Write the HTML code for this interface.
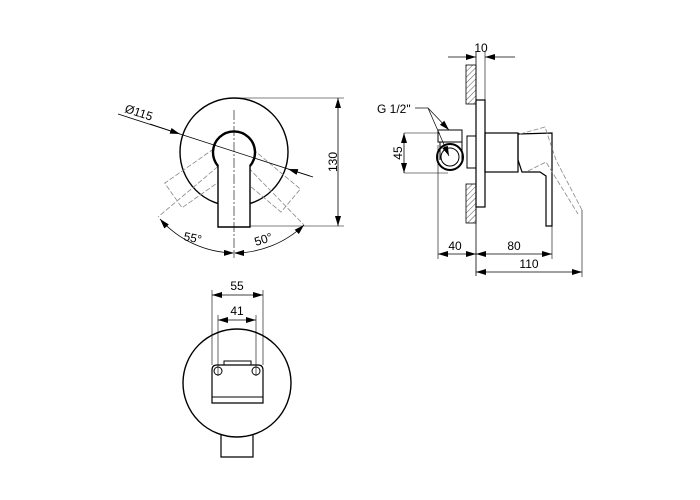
<!DOCTYPE html>
<html><head><style>body{margin:0;background:#fff}svg{display:block}text{font-family:"Liberation Sans",sans-serif;fill:#000}</style></head><body>
<svg width="700" height="500" viewBox="0 0 700 500" xmlns="http://www.w3.org/2000/svg">
<defs>
<marker id="a" viewBox="0 0 10 6" refX="10" refY="3" markerWidth="10" markerHeight="6" orient="auto-start-reverse" markerUnits="userSpaceOnUse"><path d="M0,0L10,3L0,6z" fill="#000"/></marker>
<pattern id="h" width="4" height="4" patternUnits="userSpaceOnUse" patternTransform="rotate(45)"><line x1="0" y1="0" x2="0" y2="4" stroke="#555" stroke-width="1"/></pattern>
</defs>
<g fill="none" stroke="#000" stroke-width="1">
<!-- Front view -->
<circle cx="234" cy="152" r="54" stroke-width="1.4"/>
<g stroke="#888" stroke-dasharray="5,2" stroke-width="0.8">
<rect x="219" y="153" width="30" height="74" transform="rotate(55 234 153)"/>
<rect x="219" y="153" width="30" height="74" transform="rotate(-50 234 153)"/>
<line x1="234" y1="153" x2="158" y2="217"/>
<line x1="234" y1="153" x2="304" y2="225"/>
</g>
<path d="M218,166 A21,21 0 1 1 250,166 L250,227 L218,227 Z" fill="#fff" stroke-width="1.4"/>
<path d="M218,166 A21,21 0 1 1 250,166" stroke-width="2.4"/>
<line x1="234" y1="110" x2="234" y2="258" stroke-dasharray="10,2,2,2" stroke-width="0.6"/>
<line x1="118" y1="114" x2="313" y2="177" stroke-width="0.8"/>
<line x1="150" y1="124" x2="180" y2="134" marker-end="url(#a)" stroke-width="0.8"/>
<line x1="310" y1="176" x2="288" y2="169" marker-end="url(#a)" stroke-width="0.8"/>
<line x1="234" y1="98" x2="344" y2="98" stroke-width="0.6"/>
<line x1="250" y1="226" x2="344" y2="226" stroke-width="0.6"/>
<line x1="338" y1="98" x2="338" y2="226" marker-start="url(#a)" marker-end="url(#a)" stroke-width="0.8"/>
<path d="M160,219 A101,101 0 0 0 234,253" marker-start="url(#a)" marker-end="url(#a)" stroke-width="0.8"/>
<path d="M304,225 A101,101 0 0 1 234,253" marker-start="url(#a)" marker-end="url(#a)" stroke-width="0.8"/>
<!-- Side view -->
<rect x="466" y="65" width="10" height="39" fill="url(#h)" stroke-width="0.8"/>
<rect x="466" y="184" width="10" height="39" fill="url(#h)" stroke-width="0.8"/>
<rect x="476" y="100" width="9" height="107" stroke-width="1.2"/>
<line x1="476" y1="52" x2="476" y2="276" stroke-width="0.8"/>
<line x1="485" y1="52" x2="485" y2="100" stroke-width="0.6"/>
<line x1="448" y1="57" x2="476" y2="57" marker-end="url(#a)" stroke-width="0.8"/>
<line x1="515" y1="57" x2="485" y2="57" marker-end="url(#a)" stroke-width="0.8"/>
<rect x="485" y="133" width="33" height="39" stroke-width="1.2"/>
<path d="M518,134 L552,133 L552,226 L546,226 L546,176 L540,172 L522,172 L518,160 Z" stroke-width="1.2"/>
<g stroke="#888" stroke-dasharray="5,2" stroke-width="0.8">
<path d="M520,134 L545,127 L556,160 L582,210"/>
<path d="M528,171 L546,162 L578,214"/>
</g>
<rect x="467" y="136" width="9" height="32" stroke-width="1"/>
<rect x="438" y="130" width="24" height="12" stroke-width="1"/>
<line x1="440" y1="142" x2="440" y2="160"/><line x1="462" y1="142" x2="462" y2="160"/>
<circle cx="450" cy="157" r="13" stroke-width="2"/>
<circle cx="450" cy="157" r="9" stroke-width="1"/>
<line x1="404" y1="133" x2="440" y2="133" stroke-width="0.6"/>
<line x1="404" y1="173" x2="448" y2="173" stroke-width="0.6"/>
<line x1="404" y1="133" x2="404" y2="173" marker-start="url(#a)" marker-end="url(#a)" stroke-width="0.8"/>
<line x1="415" y1="108" x2="428" y2="108" stroke-width="0.7"/>
<line x1="428" y1="108" x2="449" y2="130" marker-end="url(#a)" stroke-width="0.7"/>
<line x1="428" y1="108" x2="449" y2="156" marker-end="url(#a)" stroke-width="0.7"/>
<line x1="438" y1="145" x2="438" y2="259" stroke-width="0.6"/>
<line x1="552" y1="226" x2="552" y2="259" stroke-width="0.6"/>
<line x1="582" y1="210" x2="582" y2="277" stroke-width="0.6"/>
<line x1="438" y1="254" x2="476" y2="254" marker-start="url(#a)" marker-end="url(#a)" stroke-width="0.8"/>
<line x1="476" y1="254" x2="552" y2="254" marker-start="url(#a)" marker-end="url(#a)" stroke-width="0.8"/>
<line x1="476" y1="272" x2="582" y2="272" marker-start="url(#a)" marker-end="url(#a)" stroke-width="0.8"/>
<!-- Bottom view -->
<path d="M221,435 L221,457 L253,457 L253,435" stroke-width="1.2"/>
<circle cx="237" cy="383" r="54" stroke-width="1.4"/>
<path d="M212,403 L212,370 Q212,365 217,365 L258,365 Q263,365 263,370 L263,403 Z" fill="#fff" stroke-width="1.2"/>
<line x1="212" y1="397" x2="263" y2="397"/>
<rect x="224" y="361" width="27" height="4" stroke-width="1"/>
<circle cx="218" cy="371" r="4"/><circle cx="256" cy="371" r="4"/>
<line x1="212" y1="290" x2="212" y2="365" stroke-width="0.6"/>
<line x1="263" y1="290" x2="263" y2="365" stroke-width="0.6"/>
<line x1="218" y1="315" x2="218" y2="376" stroke-width="0.6"/>
<line x1="256" y1="315" x2="256" y2="376" stroke-width="0.6"/>
<line x1="212" y1="295" x2="263" y2="295" marker-start="url(#a)" marker-end="url(#a)" stroke-width="0.8"/>
<line x1="218" y1="320" x2="256" y2="320" marker-start="url(#a)" marker-end="url(#a)" stroke-width="0.8"/>
</g>
<g font-size="12">
<text x="124" y="112" transform="rotate(18 124 112)">Ø115</text>
<text x="334" y="162" text-anchor="middle" transform="rotate(-90 334 162)" dominant-baseline="middle">130</text>
<text x="183" y="240" transform="rotate(12 183 240)">55°</text>
<text x="256" y="246" transform="rotate(-18 256 246)">50°</text>
<text x="481" y="52" text-anchor="middle">10</text>
<text x="377" y="113">G 1/2"</text>
<text x="399" y="153" text-anchor="middle" transform="rotate(-90 399 153)" dominant-baseline="middle">45</text>
<text x="455" y="250" text-anchor="middle">40</text>
<text x="514" y="250" text-anchor="middle">80</text>
<text x="529" y="268" text-anchor="middle">110</text>
<text x="237" y="290" text-anchor="middle">55</text>
<text x="237" y="315" text-anchor="middle">41</text>
</g>
</svg>
</body></html>
